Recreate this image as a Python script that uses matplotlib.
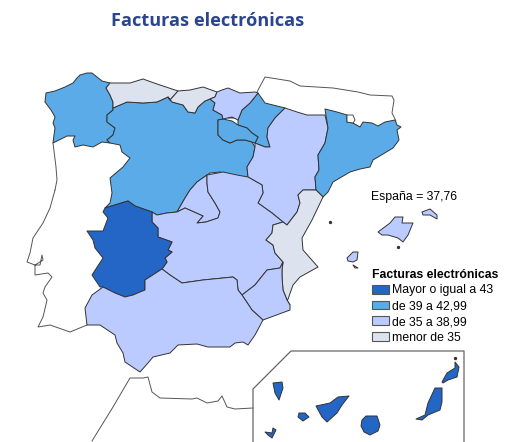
import matplotlib
matplotlib.use("Agg")
import matplotlib.pyplot as plt
from matplotlib.patches import Polygon, Patch

# outlines, in picture pixels
galicia = [(53,143),(54,135),(55,128),(53,123),(55,117),(51,110),(45,102),(46,93),(55,91),(65,87),(73,83),(77,78),(80,75),(87,73),(92,73),(102,81),(110,83),(106,88),(110,95),(113,102),(113,110),(107,115),(107,122),(115,128),(113,135),(107,140),(110,143),(102,142),(93,147),(83,145),(75,147),(73,140),(75,136),(67,136)]
asturias = [(110,83),(130,83),(143,79),(157,84),(178,91),(170,100),(168,97),(157,102),(143,103),(127,102),(113,108),(113,102),(110,95),(106,88)]
cantabria = [(178,91),(190,90),(203,87),(217,92),(215,97),(210,99),(205,101),(198,107),(195,113),(188,112),(183,105),(172,102),(168,97),(170,100)]
pais_vasco = [(217,92),(222,90),(228,88),(240,93),(255,92),(258,93),(250,103),(242,110),(238,120),(232,117),(223,119),(222,115),(213,110),(215,103),(210,99),(215,97)]
navarra = [(258,93),(265,103),(285,108),(275,118),(268,128),(267,137),(270,147),(265,147),(255,143),(258,137),(252,133),(247,128),(238,125),(238,120),(242,110),(250,103)]
rioja = [(218,120),(223,119),(232,121),(238,125),(247,128),(252,133),(258,137),(255,143),(252,142),(245,140),(237,140),(230,143),(223,140),(218,135)]
trevino = [(225,115),(233,114),(235,118),(228,118)]
castilla_leon = [(113,108),(127,102),(143,103),(157,102),(168,97),(172,102),(183,105),(188,112),(195,113),(198,107),(205,101),(210,99),(215,103),(213,110),(222,115),(223,119),(218,120),(218,135),(223,140),(230,143),(237,140),(245,140),(252,142),(255,147),(253,157),(247,167),(248,177),(237,179),(228,175),(220,172),(210,173),(207,175),(197,182),(190,190),(185,198),(177,212),(167,213),(157,215),(152,212),(135,206),(128,201),(105,208),(110,203),(112,193),(110,178),(123,167),(130,158),(122,152),(120,145),(110,143),(107,140),(113,135),(115,128),(107,122),(107,115),(113,110)]
madrid = [(207,175),(197,182),(190,190),(185,198),(177,212),(185,208),(203,216),(197,223),(206,222),(218,218),(220,212),(215,203),(208,192),(207,183)]
extremadura = [(105,208),(128,201),(135,206),(152,212),(152,222),(158,228),(158,237),(172,242),(168,250),(172,252),(165,258),(167,262),(162,269),(145,280),(145,290),(140,292),(133,295),(125,297),(115,293),(103,287),(100,287),(92,275),(103,258),(95,248),(93,240),(87,231),(103,231),(108,218),(103,212)]
castilla_mancha = [(207,175),(223,172),(237,175),(248,177),(262,185),(263,193),(258,203),(272,213),(283,222),(273,225),(272,233),(266,240),(273,245),(275,253),(283,262),(280,268),(267,270),(255,285),(242,295),(238,290),(237,280),(233,277),(203,280),(182,283),(170,275),(162,269),(167,262),(165,258),(172,252),(168,250),(172,242),(158,237),(158,228),(152,222),(152,212),(157,215),(167,213),(177,212),(185,208),(203,216),(197,223),(206,222),(218,218),(220,212),(215,203),(208,192),(207,183)]
aragon = [(285,108),(297,112),(307,115),(325,115),(328,128),(325,143),(318,155),(319,170),(315,177),(316,190),(312,190),(303,190),(298,195),(300,203),(297,212),(287,225),(283,222),(272,213),(258,203),(263,193),(262,185),(248,177),(247,167),(253,157),(255,147),(255,143),(265,147),(270,147),(267,137),(268,128),(275,118)]
cataluna = [(325,109),(337,112),(347,115),(347,122),(353,123),(360,127),(363,122),(372,123),(378,126),(385,122),(395,120),(397,125),(401,127),(397,130),(399,140),(393,148),(373,160),(370,167),(360,169),(350,172),(333,182),(328,192),(323,197),(316,190),(315,177),(319,170),(318,155),(325,143),(328,128)]
valencia = [(303,190),(312,190),(316,190),(323,197),(312,220),(302,238),(303,250),(318,267),(300,277),(293,285),(287,302),(290,305),(287,300),(283,290),(282,277),(282,270),(283,262),(275,253),(273,245),(266,240),(272,233),(273,225),(283,222),(287,225),(297,212),(300,203),(298,195)]
murcia = [(242,295),(255,285),(267,270),(280,268),(283,262),(282,270),(282,277),(283,290),(287,300),(290,305),(290,310),(263,320),(252,310)]
andalucia = [(87,325),(85,308),(92,295),(103,287),(115,293),(125,297),(133,295),(140,292),(145,290),(145,280),(162,269),(170,275),(182,283),(203,280),(233,277),(237,280),(238,290),(242,295),(252,310),(263,320),(255,335),(248,345),(243,342),(235,343),(230,347),(208,347),(197,344),(178,345),(170,353),(153,357),(148,363),(140,372),(125,362),(123,353),(117,343),(115,335),(100,325)]
mallorca = [(378,232),(390,223),(395,217),(403,217),(402,223),(413,223),(408,235),(403,242),(398,238),(388,235),(382,235)]
menorca = [(422,212),(430,209),(437,215),(437,219),(430,215),(423,215)]
ibiza = [(347,258),(353,252),(358,252),(357,260),(353,262),(348,261)]
formentera = [(353,265),(358,268),(355,268)]
lanzarote = [(442,382),(447,373),(455,368),(455,362),(459,367),(457,377),(448,380),(443,383)]
fuerteventura = [(435,388),(442,388),(442,402),(440,410),(428,415),(422,420),(416,419),(425,415),(428,403)]
gran_canaria = [(366,416),(377,416),(380,425),(378,431),(370,435),(364,432),(361,426),(362,420)]
tenerife = [(316,406),(330,403),(338,397),(349,396),(342,405),(337,413),(327,422),(322,417)]
gomera = [(299,413),(305,413),(309,417),(303,421),(298,417)]
la_palma = [(273,383),(282,382),(283,388),(279,400),(275,393)]
hierro = [(265,432),(272,433),(273,428),(276,430),(272,438),(268,435)]

# neighbours drawn as bare lines
portugal = [(55,190),(50,208),(43,223),(33,238),(30,253),(27,262),(35,265),(43,260),(42,255),(40,265),(35,265),(35,275),(48,273),(52,277),(45,287),(43,293),(47,300),(43,317),(38,327),(50,325),(70,332),(87,325)]
portugal_north = [(53,143),(56,167),(57,180),(55,190)]
france = [(257,92),(265,77),(290,81),(300,86),(333,88),(358,92),(370,95),(392,96),(394,100),(392,113),(396,121)]
morocco = [(92,441),(113,407),(130,378),(143,378),(148,377),(152,392),(160,398),(192,399),(197,398),(207,403),(218,401),(222,396),(227,407),(235,409),(253,408)]
inset_frame = [(253,442),(253,389),(291,351),(464,351),(464,442)]
andorra = [(347,115),(353,115),(355,120),(353,123),(347,122)]

class_labels = ["Mayor o igual a 43", "de 39 a 42,99", "de 35 a 38,99", "menor de 35"]
class_colors = ["#2466C6", "#5AABE8", "#BCCBFF", "#DCE3EE"]

regions = [
    (galicia, 1), (castilla_leon, 1), (navarra, 1), (rioja, 1), (trevino, 1), (aragon, 2),
    (asturias, 3), (cantabria, 3), (pais_vasco, 2), (madrid, 2), (castilla_mancha, 2),
    (extremadura, 0), (cataluna, 1), (valencia, 3), (murcia, 2), (andalucia, 2),
    (mallorca, 2), (menorca, 2), (ibiza, 2), (formentera, 2),
    (lanzarote, 0), (fuerteventura, 0), (gran_canaria, 0), (tenerife, 0),
    (gomera, 0), (la_palma, 0), (hierro, 0),
]

fig = plt.figure(figsize=(5.13, 4.42), dpi=100)
ax = fig.add_axes([0, 0, 1, 1])
ax.set_xlim(0, 513)
ax.set_ylim(442, 0)
ax.axis("off")

for pts, cl in regions:
    ax.add_patch(Polygon(pts, closed=True, facecolor=class_colors[cl], edgecolor="#333333", linewidth=0.7, joinstyle="round"))
ax.add_patch(Polygon(andorra, closed=True, facecolor="white", edgecolor="#333333", linewidth=0.6))

for line in [portugal, portugal_north, france, morocco]:
    ax.plot([p[0] for p in line], [p[1] for p in line], color="#555555", lw=0.7)
ax.plot([p[0] for p in inset_frame], [p[1] for p in inset_frame], color="#666666", lw=0.9)

# tiny islets
ax.plot([398, 330, 455], [247, 222, 358], ls="none", marker="o", ms=1.4, color="#333333")

ax.text(111, 21, "Facturas electrónicas", family="Open Sans", weight="bold", fontsize=13.05, color="#2B4490", va="center", ha="left")
ax.text(371, 197, "España = 37,76", family="Liberation Sans", fontsize=8.8, color="black", va="center", ha="left")

handles = [Patch(facecolor=c, edgecolor="#555555", linewidth=0.8) for c in class_colors]
leg = ax.legend(handles, class_labels, loc="upper left", bbox_to_anchor=(368 / 513, 1 - 265 / 442), frameon=False,
                title="Facturas electrónicas", alignment="left", prop={"family": "Liberation Sans", "size": 8.8},
                title_fontproperties={"family": "Liberation Sans", "weight": "bold", "size": 8.8},
                handlelength=1.45, handleheight=0.72, handletextpad=0.22, labelspacing=0.31, borderpad=0.3, borderaxespad=0)
fig.savefig("out.png", dpi=100)
